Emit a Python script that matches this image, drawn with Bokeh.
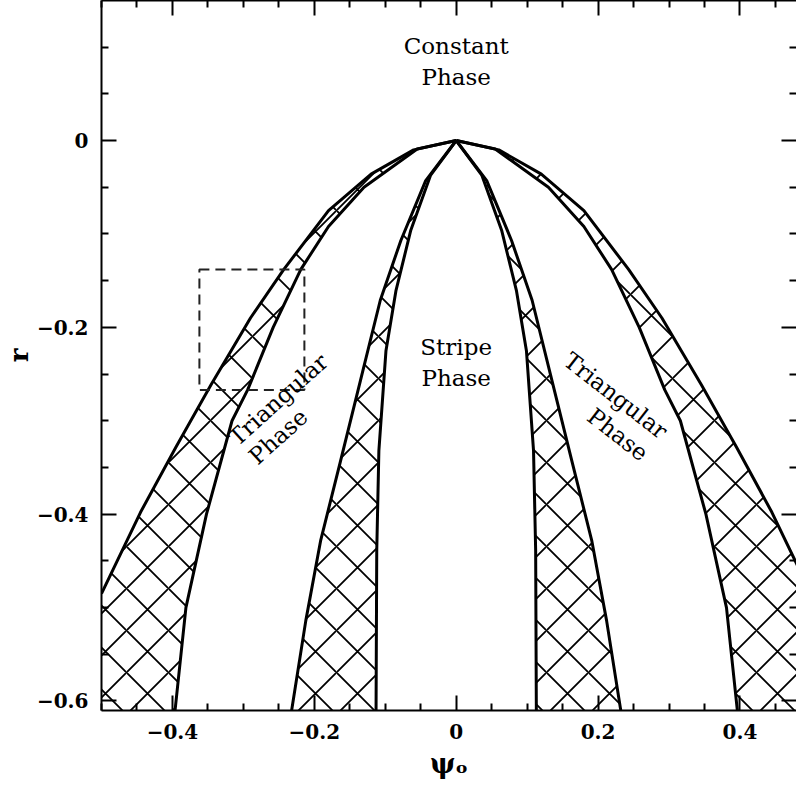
import math
from bokeh.plotting import figure
from bokeh.models import LinearAxis, FixedTicker, Range1d
from bokeh.core.properties import value
from bokeh.embed import file_html
from bokeh.resources import INLINE

FONT = "DejaVu Serif"

# ---- data (left half, psi_o vs r) ----
outer_left_x = [0.0, -0.06, -0.12, -0.18, -0.243, -0.29, -0.346, -0.395, -0.445, -0.50]
outer_left_r = [0.0, -0.010, -0.036, -0.075, -0.138, -0.19, -0.262, -0.328, -0.398, -0.485]

inner_left_x = [0.0, -0.055, -0.13, -0.18, -0.219, -0.258, -0.294, -0.316, -0.352, -0.381, -0.397]
inner_left_r = [0.0, -0.009, -0.05, -0.092, -0.138, -0.2, -0.267, -0.3, -0.4, -0.5, -0.615]

tri_left_x = [0.0, -0.043, -0.078, -0.107, -0.135, -0.163, -0.191, -0.212, -0.233]
tri_left_r = [0.0, -0.043, -0.107, -0.171, -0.257, -0.343, -0.428, -0.514, -0.615]

str_left_x = [0.0, -0.036, -0.064, -0.085, -0.099, -0.109, -0.112, -0.113]
str_left_r = [0.0, -0.037, -0.096, -0.161, -0.225, -0.332, -0.439, -0.615]

# right half (symmetric)
outer_right_x = [0.0, 0.06, 0.12, 0.18, 0.243, 0.29, 0.346, 0.395, 0.445, 0.50]
outer_right_r = [0.0, -0.010, -0.036, -0.075, -0.138, -0.19, -0.262, -0.328, -0.398, -0.485]

inner_right_x = [0.0, 0.055, 0.13, 0.18, 0.219, 0.258, 0.294, 0.316, 0.352, 0.381, 0.397]
inner_right_r = [0.0, -0.009, -0.05, -0.092, -0.138, -0.2, -0.267, -0.3, -0.4, -0.5, -0.615]

tri_right_x = [0.0, 0.043, 0.078, 0.107, 0.135, 0.163, 0.191, 0.212, 0.233]
tri_right_r = [0.0, -0.043, -0.107, -0.171, -0.257, -0.343, -0.428, -0.514, -0.615]

str_right_x = [0.0, 0.036, 0.064, 0.085, 0.099, 0.109, 0.112, 0.113]
str_right_r = [0.0, -0.037, -0.096, -0.161, -0.225, -0.332, -0.439, -0.615]

# dashed box
box_left, box_right, box_top, box_bottom = -0.362, -0.214, -0.138, -0.267

# ticks
x_major = [-0.4, -0.2, 0.0, 0.2, 0.4]
x_labels = ["\u22120.4", "\u22120.2", "0", "0.2", "0.4"]
x_minor = [-0.5, -0.45, -0.35, -0.3, -0.25, -0.15, -0.1, -0.05, 0.05, 0.1, 0.15, 0.25, 0.3, 0.35, 0.45, 0.5]
y_major = [-0.6, -0.4, -0.2, 0.0]
y_labels = ["\u22120.6", "\u22120.4", "\u22120.2", "0"]
y_minor = [-0.55, -0.5, -0.45, -0.35, -0.3, -0.25, -0.15, -0.1, -0.05, 0.05, 0.1, 0.15]

x_title = "\u03c8\u2092"
y_title = "r"

X_MIN, X_MAX = -0.5, 0.4797
Y_MIN, Y_MAX = -0.6102, 0.1499

p = figure(width=796, height=784, x_range=Range1d(X_MIN, X_MAX), y_range=Range1d(Y_MIN, Y_MAX),
           output_backend="svg", toolbar_location=None,
           min_border_left=100, min_border_right=0, min_border_top=0, min_border_bottom=74)
p.grid.visible = False
p.outline_line_color = None
p.background_fill_color = "white"
p.border_fill_color = "white"

# ---- hatched coexistence regions ----
hatch_kw = dict(fill_alpha=0, line_color=None, hatch_pattern="diagonal_cross",
                hatch_scale=42, hatch_weight=1.8, hatch_color="black", hatch_alpha=1.0)

p.patch(outer_left_x + [X_MIN] + inner_left_x[::-1],
        outer_left_r + [inner_left_r[-1]] + inner_left_r[::-1], **hatch_kw)
p.patch(outer_right_x + [0.52, 0.52] + inner_right_x[::-1],
        outer_right_r + [outer_right_r[-1], inner_right_r[-1]] + inner_right_r[::-1], **hatch_kw)
p.patch(tri_left_x + str_left_x[::-1], tri_left_r + str_left_r[::-1], **hatch_kw)
p.patch(tri_right_x + str_right_x[::-1], tri_right_r + str_right_r[::-1], **hatch_kw)

# ---- phase boundaries ----
for xs, rs in [(outer_left_x, outer_left_r), (inner_left_x, inner_left_r),
               (tri_left_x, tri_left_r), (str_left_x, str_left_r),
               (outer_right_x, outer_right_r), (inner_right_x, inner_right_r),
               (tri_right_x, tri_right_r), (str_right_x, str_right_r)]:
    p.line(xs, rs, line_color="black", line_width=3, line_join="round")

# ---- dashed box ----
p.quad(left=[box_left], right=[box_right], top=[box_top], bottom=[box_bottom],
       fill_alpha=0, line_color="#222222", line_width=2, line_dash="10 6")

# ---- phase labels ----
lbl = dict(text_font=value(FONT), text_font_size="23px", text_align="center",
           text_baseline="middle", text_color="black", text_line_height=1.2)
p.text(x=[0.0, 0.0], y=[0.0846, -0.238], text=["Constant\nPhase", "Stripe\nPhase"], **lbl)
p.text(x=[-0.2508, -0.2508], y=[-0.2773, -0.3169], text=["Triangular", "Phase"],
       angle=[math.radians(42)] * 2, **lbl)
p.text(x=[0.2249, 0.2278], y=[-0.2730, -0.3147], text=["Triangular", "Phase"],
       angle=[math.radians(-38)] * 2, **lbl)

# ---- axes ----
def style_axis(ax, major, minor, labels, show_labels, show_line=True):
    ax.ticker = FixedTicker(ticks=major, minor_ticks=minor)
    ax.major_tick_in = 15
    ax.major_tick_out = 0
    ax.minor_tick_in = 7
    ax.minor_tick_out = 0
    ax.major_tick_line_width = 2
    ax.minor_tick_line_width = 2
    ax.major_tick_line_color = "black"
    ax.minor_tick_line_color = "black"
    ax.axis_line_width = 2
    ax.axis_line_color = "black" if show_line else None
    if show_labels:
        ax.major_label_overrides = {t: s for t, s in zip(major, labels)}
        ax.major_label_text_font = FONT
        ax.major_label_text_font_size = "20px"
        ax.major_label_text_font_style = "bold"
        ax.major_label_text_color = "black"
        ax.major_label_standoff = 13
    else:
        ax.major_label_overrides = {t: "" for t in major}
        ax.major_label_text_font_size = "0px"
        ax.major_label_standoff = 0

style_axis(p.xaxis[0], x_major, x_minor, x_labels, True)
style_axis(p.yaxis[0], y_major, y_minor, y_labels, True)

p.xaxis[0].axis_label = x_title
p.xaxis[0].axis_label_text_font = FONT
p.xaxis[0].axis_label_text_font_size = "27px"
p.xaxis[0].axis_label_text_font_style = "bold"
p.xaxis[0].axis_label_text_color = "black"
p.xaxis[0].axis_label_standoff = 6

p.yaxis[0].axis_label = y_title
p.yaxis[0].axis_label_text_font = FONT
p.yaxis[0].axis_label_text_font_size = "26px"
p.yaxis[0].axis_label_text_font_style = "bold"
p.yaxis[0].axis_label_text_color = "black"
p.yaxis[0].axis_label_standoff = 0

top = LinearAxis()
style_axis(top, x_major, x_minor, x_labels, False)
p.add_layout(top, "above")
right = LinearAxis()
style_axis(right, y_major, y_minor, y_labels, False, show_line=False)
p.add_layout(right, "right")

open("out.html", "w").write(file_html(p, INLINE))
